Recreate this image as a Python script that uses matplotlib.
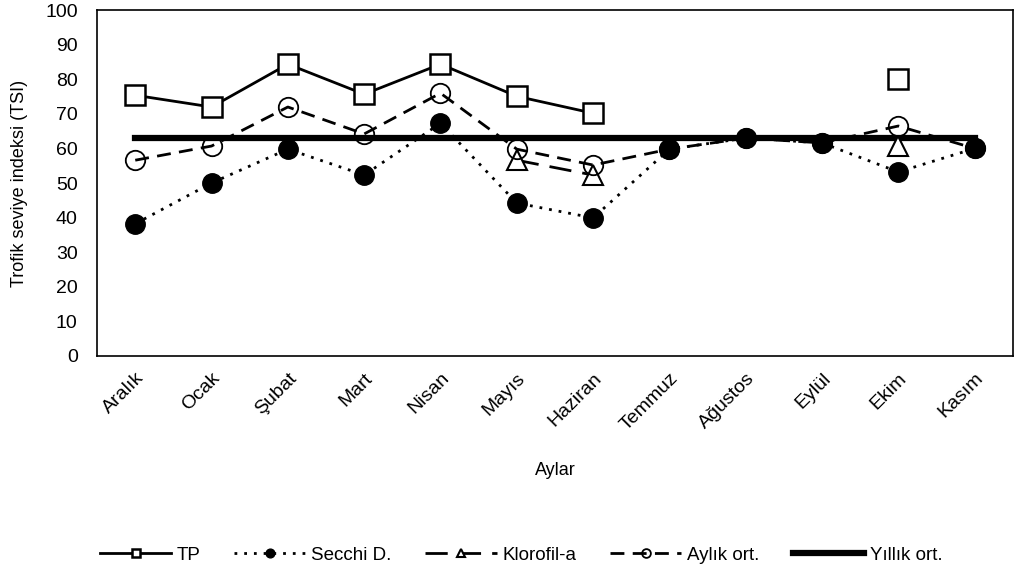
import numpy as np
import matplotlib.pyplot as plt

plt.rcParams['font.family'] = ['Liberation Sans', 'DejaVu Sans']

aylar = ["Aralık", "Ocak", "Şubat", "Mart", "Nisan", "Mayıs", "Haziran",
         "Temmuz", "Ağustos", "Eylül", "Ekim", "Kasım"]
nan = np.nan
tp = [75.4, 72.0, 84.4, 75.7, 84.4, 75.1, 70.2, nan, nan, nan, 80.0, nan]
secchi = [38.2, 50.0, 59.8, 52.3, 67.3, 44.2, 39.9, 59.8, 63.0, 61.6, 53.2, 60.0]
klorofil = [nan, nan, nan, nan, nan, 56.6, 52.3, nan, nan, nan, 60.7, nan]
aylik = [56.6, 60.7, 72.0, 64.2, 76.0, 59.8, 55.2, 59.8, 63.0, 61.6, 66.5, 60.0]
yillik = [63.0] * 12

fig = plt.figure(figsize=(10.22, 5.71), dpi=100)
ax = fig.add_axes([0.095, 0.377, 0.896, 0.605])
x = np.arange(len(aylar))

ax.plot(x, tp, color='black', lw=2, marker='s', ms=14, mfc='white',
        mec='black', mew=1.8, label='TP', zorder=3)
ax.plot(x, secchi, color='black', lw=2, ls=(0, (1, 2.5)), marker='o', ms=14,
        mfc='black', mec='black', label='Secchi D.', zorder=3)
ax.plot(x, klorofil, color='black', lw=2, ls=(0, (8, 4)), marker='^', ms=14,
        mfc='white', mec='black', mew=1.5, label='Klorofil-a', zorder=3)
ax.plot(x, aylik, color='black', lw=2, ls=(0, (5, 3)), marker='o', ms=14,
        mfc='none', mec='black', mew=1.3, label='Aylık ort.', zorder=3)
ax.plot(x, yillik, color='black', lw=4.5, label='Yıllık ort.', zorder=2)

ax.set_xlim(-0.5, 11.5)
ax.set_ylim(0, 100)
ax.set_yticks(range(0, 101, 10))
ax.set_xticks(x)
ax.set_xticklabels(aylar, rotation=45, ha='right', rotation_mode='anchor')
ax.tick_params(labelsize=14, length=0)
ax.tick_params(axis='y', pad=14)
ax.tick_params(axis='x', pad=10)
for s in ax.spines.values():
    s.set_linewidth(1.2)

ax.set_ylabel("Trofik seviye indeksi (TSI)", fontsize=13, labelpad=12)
ax.set_xlabel("Aylar", fontsize=13, labelpad=20)

fig.legend(loc='center', bbox_to_anchor=(0.51, 0.028), ncol=5, frameon=False,
           fontsize=13.5, markerscale=0.45, handlelength=3.8, columnspacing=1.8,
           handletextpad=0.3)

fig.savefig("out.png", dpi=100)
